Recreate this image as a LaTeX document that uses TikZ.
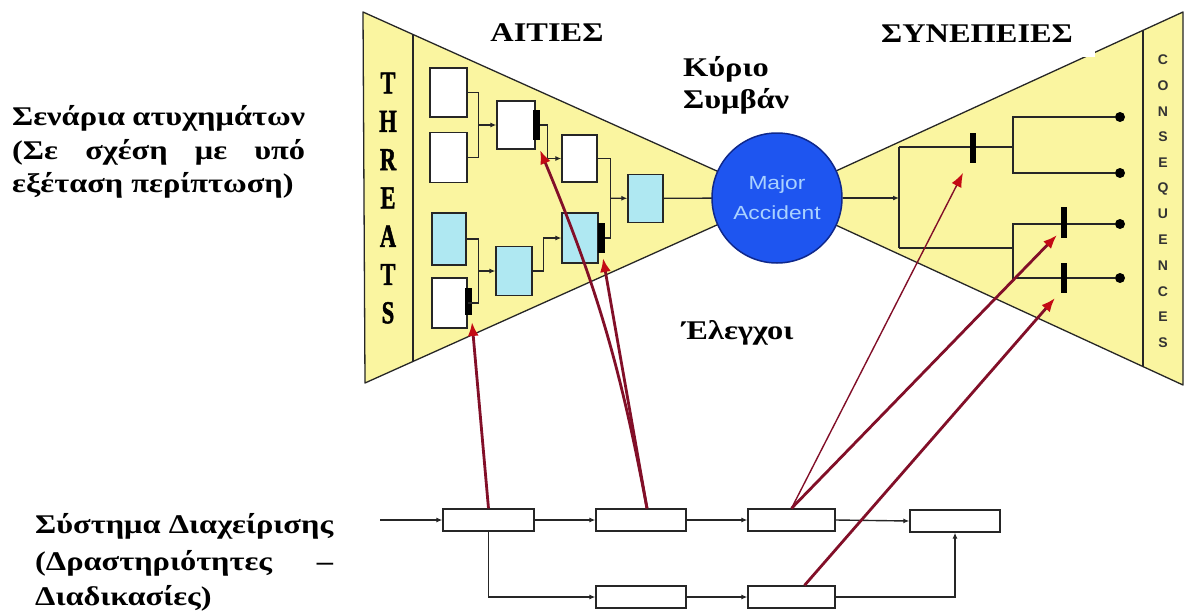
\documentclass[tikz,border=0pt]{standalone}
\usepackage{fontspec}
\setmainfont[FakeStretch=1.2]{Liberation Serif}
\setsansfont{Liberation Sans}
\newfontfamily\threatfont[FakeStretch=0.7,FakeBold=1.5]{Liberation Serif}
\newfontfamily\ballfont[FakeStretch=1.2]{Liberation Sans}
\usetikzlibrary{arrows.meta,calc}
\definecolor{bowyellow}{RGB}{250,245,160}
\definecolor{boxcyan}{RGB}{175,232,242}
\definecolor{ballblue}{RGB}{30,85,240}
\definecolor{balledge}{RGB}{15,40,140}
\definecolor{maroonline}{RGB}{130,15,40}
\definecolor{arrowred}{RGB}{195,10,20}
\definecolor{balltext}{RGB}{170,210,255}
\tikzset{
  bow/.style={fill=bowyellow, draw=black!85, line width=1.3pt, line join=round},
  tbox/.style={draw=black!85, line width=1.3pt, inner sep=0pt},
  wbox/.style={tbox, fill=white},
  cbox/.style={tbox, fill=boxcyan},
  bar/.style={fill=black, inner sep=0pt, minimum width=7pt},
  conn/.style={line width=1.4pt, draw=black!85},
  arr/.style={conn, -{Latex[length=6pt,width=5pt]}},
  proc/.style={draw=black!85, line width=1.3pt, fill=white, inner sep=0pt, minimum height=22pt},
  redthick/.style={line width=2.8pt, draw=maroonline, -{Latex[length=14pt,width=11pt,color=arrowred]}},
  redthin/.style={line width=1.4pt, draw=maroonline, -{Latex[length=14pt,width=11pt,color=arrowred]}},
  dot/.style={circle, fill=black, inner sep=0pt, minimum size=10pt},
  title/.style={font=\fontsize{27}{32}\selectfont\bfseries, inner sep=0pt},
  lbl/.style={font=\fontsize{27}{32}\selectfont\bfseries, inner sep=0pt, anchor=base west},
  threat/.style={font=\threatfont\fontsize{32}{32}\selectfont\bfseries, inner sep=0pt},
  conseq/.style={font=\sffamily\fontsize{14}{14}\selectfont\bfseries, text=black!80, inner sep=0pt},
}
\begin{document}
\begin{tikzpicture}[x=1pt,y=-1pt]
\useasboundingbox (0,0) rectangle (1187,616);
\fill[white] (0,0) rectangle (1187,616);
% bow-tie
\coordinate (ctr) at (777,198);
\draw[bow] (363,12) -- (ctr) -- (365,383) -- cycle;
\draw[bow] (1183,12) -- (ctr) -- (1183,385) -- cycle;
\draw[conn] (413,34.5) -- (413,361.5);
\draw[conn] (1143,30.3) -- (1143,367);
\foreach \l [count=\i from 0] in {T,H,R,E,A,T,S}
  \node[threat] (th\i) at (388, 83+38.3*\i) {\l};
\foreach \l [count=\i from 0] in {C,O,N,S,E,Q,U,E,N,C,E,S}
  \node[conseq] (cq\i) at (1163, 60+25.7*\i) {\l};
% left tree boxes
\node[wbox, minimum width=37pt, minimum height=49pt] (b1) at (448.5,92.5) {};
\node[wbox, minimum width=37pt, minimum height=50pt] (b2) at (448.5,157.5) {};
\node[cbox, minimum width=34pt, minimum height=52pt] (b3) at (449,239) {};
\node[wbox, minimum width=35pt, minimum height=50pt] (b4) at (449.5,303) {};
\node[wbox, minimum width=38pt, minimum height=48pt] (c1) at (516,125) {};
\node[cbox, minimum width=36pt, minimum height=49pt] (c2) at (514,271) {};
\node[wbox, minimum width=35pt, minimum height=47pt] (d1) at (579.5,158.5) {};
\node[cbox, minimum width=36pt, minimum height=50pt] (d2) at (580,238) {};
\node[cbox, minimum width=35pt, minimum height=48pt] (e1) at (645.5,198.3) {};
% bars on left boxes
\node[bar, minimum height=30pt] (bc1) at (536.5,125) {};
\node[bar, minimum height=30pt] (bd2) at (601.5,238) {};
\node[bar, minimum height=27pt] (bb4) at (468.5,301.5) {};
% left connectors
\draw[conn] (b1.east) -- ++(11,0) |- (b2.east);
\draw[arr] ($(b1.east)!0.5!(b2.east)+(11,0)$) -- (c1.west);
\draw[conn] (b3.east) -- ++(12,0) |- (b4.east);
\draw[arr] ($(b3.east)!0.5!(b4.east)+(12,0)$) -- (c2.west);
\draw[arr] (bc1.east) -- ++(7,0) |- (d1.west);
\draw[arr] (c2.east) -- ++(11,0) |- (d2.west);
\draw[conn] (d1.east) -- ++(13,0) |- (bd2.east);
\draw[arr] ($(d1.east)!0.5!(d2.east)+(13,0)$) -- (e1.west);
% major accident
\draw[conn] (e1.east) -- (ctr);
\node[circle, fill=ballblue, draw=balledge, line width=1.5pt, minimum size=130pt, inner sep=0pt,
      font=\ballfont\fontsize{19}{30}\selectfont, text=balltext, align=center] (ball) at (ctr) {Major\\Accident};
% right tree
\coordinate (rj) at (899,198);
\coordinate (rt) at (899,147);
\coordinate (rb) at (899,248);
\coordinate (rtm) at (1013,147);
\coordinate (rbm) at (1013,248);
\node[dot] (dot1) at (1120,117) {};
\node[dot] (dot2) at (1120,173) {};
\node[dot] (dot3) at (1120,224) {};
\node[dot] (dot4) at (1120,278) {};
\draw[arr] (ball.east) -- (rj);
\draw[conn] (rt) -- (rb);
\draw[conn] (rt) -- (rtm);
\draw[conn] (rb) -- (rbm);
\draw[conn] (dot1) -| (rtm) |- (dot2);
\draw[conn] (dot3) -| (rbm) |- (dot4);
\node[bar, minimum width=6pt, minimum height=30pt] (br1) at (973,148) {};
\node[bar, minimum width=6pt, minimum height=31pt] (br2) at (1064,222) {};
\node[bar, minimum width=6pt, minimum height=30pt] (br3) at (1064,278) {};
% management system
\coordinate (in) at (380,520);
\node[proc, minimum width=91pt] (p1) at (488.5,520) {};
\node[proc, minimum width=90pt] (p2) at (641,520) {};
\node[proc, minimum width=87pt] (p3) at (791.5,520) {};
\node[proc, minimum width=90pt] (p4) at (955,521) {};
\node[proc, minimum width=90pt] (p5) at (641,597) {};
\node[proc, minimum width=87pt] (p6) at (791.5,597) {};
\draw[arr] (in) -- (p1.west);
\draw[arr] (p1.east) -- (p2.west);
\draw[arr] (p2.east) -- (p3.west);
\draw[arr] (p3.east) -- (p4.west);
\draw[arr] (p1.south) |- (p5.west);
\draw[arr] (p5.east) -- (p6.west);
\draw[arr] (p6.east) -| (p4.south);
% controls (red arrows)
\coordinate (t1) at (472,322);
\coordinate (t2) at (540,150);
\coordinate (t3) at (603,258);
\coordinate (t4) at (963,173);
\coordinate (t5) at (1057,235);
\coordinate (t6) at (1055,298);
\draw[redthick] (p1.north) -- (t1);
\draw[redthick] ($(p2.north)+(6,0)$) to[bend right=6] (t2);
\draw[redthick] ($(p2.north)+(6,0)$) -- (t3);
\draw[redthin] (p3.north) -- (t4);
\draw[redthick] (p3.north) -- (t5);
\draw[redthick] ($(p6.north)+(13,0)$) -- (t6);
% titles and labels
\fill[white] (870,0) rectangle (1095,57);
\node[title, anchor=base] (causes) at (547,41) {ΑΙΤΙΕΣ};
\node[title, anchor=base] (conseqs) at (977,42) {ΣΥΝΕΠΕΙΕΣ};
\node[lbl] (ev1) at (683,76) {Κύριο};
\node[lbl] (ev2) at (683,108) {Συμβάν};
\node[lbl] (ctl) at (682,339) {Έλεγχοι};
\node[lbl] (sc1) at (12,125) {\makebox[293pt][s]{Σενάρια ατυχημάτων}};
\node[lbl] (sc2) at (12,159) {\makebox[293pt][s]{(Σε σχέση με υπό}};
\node[lbl] (sc3) at (12,192) {εξέταση περίπτωση)};
\node[lbl] (ms1) at (35,533) {\makebox[298pt][s]{Σύστημα Διαχείρισης}};
\node[lbl] (ms2) at (35,570) {\makebox[298pt][s]{(Δραστηριότητες –}};
\node[lbl] (ms3) at (35,605) {Διαδικασίες)};
\end{tikzpicture}
\end{document}
